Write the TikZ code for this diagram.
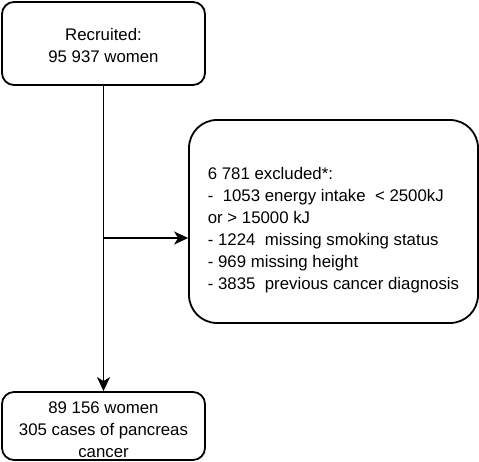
\documentclass[tikz,border=0pt]{standalone}
\usepackage{fontspec}
\setmainfont{Liberation Sans}
\usetikzlibrary{arrows.meta}
\begin{document}
\begin{tikzpicture}[x=1pt,y=-1pt,
  box/.style={draw,line width=1.8pt,rounded corners=12pt,align=center,inner sep=0pt,
    font=\fontsize{16.8}{22}\selectfont},
  conn/.style={line width=1.8pt,-{Stealth[length=14pt,width=13pt,inset=4pt]}}]
\useasboundingbox (0,0) rectangle (479,462);
\node[box,minimum width=203pt,minimum height=83pt] (rec) at (103.5,43.5) {\rule{0pt}{17pt}Recruited:\\95 937 women};
\node[box,rounded corners=28pt,align=left,minimum width=289pt,minimum height=203pt] (ex) at (333.5,221.5)
  {\rule{0pt}{30pt}6 781 excluded*:\\
  -\ \ 1053 energy intake\ \ {<} 2500kJ\\
  or {>} 15000 kJ\\
  - 1224\ \ missing smoking status\\
  - 969 missing height\\
  - 3835\ \ previous cancer diagnosis};
\node[box,minimum width=203pt,minimum height=68pt] (fin) at (103.5,426)
  {\rule{0pt}{19pt}89 156 women\\305 cases of pancreas\\cancer};
\coordinate (j) at (rec.south |- 0,238);
\draw[conn] (rec) -- (fin);
\draw[conn] (j) -- (j -| ex.west);
\end{tikzpicture}
\end{document}
